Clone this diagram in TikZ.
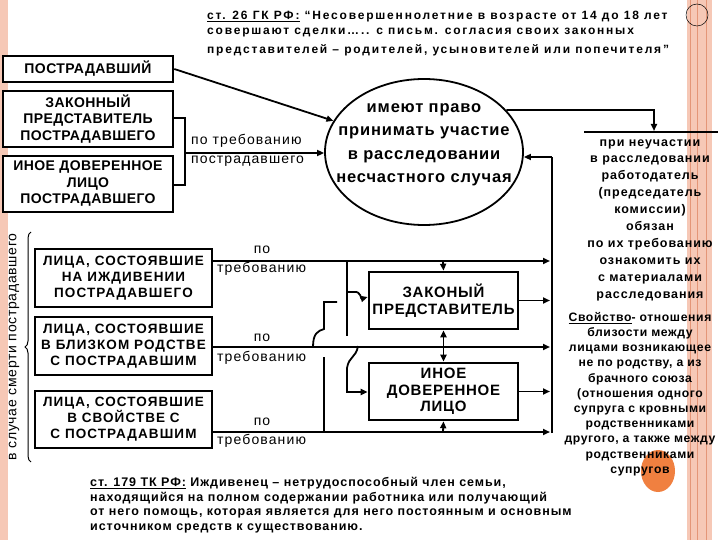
\documentclass[tikz,border=0pt]{standalone}
\usepackage{fontspec}
\setmainfont{Liberation Sans}
\usetikzlibrary{arrows.meta,decorations.pathreplacing,shapes.geometric}
\definecolor{stripe}{RGB}{246,200,182}
\definecolor{stripeline}{RGB}{228,150,120}
\definecolor{orangedot}{RGB}{240,128,64}
\newcommand{\lsp}[1]{\addfontfeatures{LetterSpace=#1}}
\begin{document}
\begin{tikzpicture}[x=1pt,y=-1pt,
  box/.style={draw, line width=2.6pt, fill=white, align=center, inner sep=0pt,
    font=\bfseries\fontsize{14}{16.5}\selectfont\lsp{3}},
  sbox/.style={box, font=\bfseries\fontsize{13.5}{16}\selectfont\lsp{8}},
  mbox/.style={box, font=\bfseries\fontsize{15}{16.5}\selectfont\lsp{5}},
  conn/.style={line width=1.8pt},
  arr/.style={conn, -{Triangle[length=7pt,width=6pt]}},
  darr/.style={conn, {Triangle[length=7pt,width=6pt]}-{Triangle[length=7pt,width=6pt]}},
  lbl/.style={inner sep=0pt, font=\fontsize{14}{16}\selectfont\lsp{8}},
  cite/.style={inner sep=0pt, anchor=west, font=\bfseries\fontsize{12}{16}\selectfont\lsp{15}},
  bcite/.style={inner sep=0pt, anchor=west, font=\bfseries\fontsize{12.5}{15}\selectfont\lsp{7.5}},
  btxt/.style={inner sep=0pt, align=center, font=\bfseries\fontsize{12.5}{16.9}\selectfont\lsp{7.5}}
]
\useasboundingbox (0,0) rectangle (720,540);
% background decorations
\fill[stripe] (0,0) rectangle (8,540);
\fill[stripe] (687,0) rectangle (712,540);
\foreach \xx in {690,697,706} \draw[stripeline, line width=0.6pt] (\xx,0) -- (\xx,540);
\draw[line width=0.5pt] (697,15) circle (11);
\fill[orangedot] (658,471) ellipse (17 and 21);

% top citation
\node[cite] (t1) at (207,17) {\underline{ст. 26 ГК РФ:} “Несовершеннолетние в возрасте от 14 до 18 лет};
\node[cite] (t2) at (207,33) {совершают сделки….. с письм. согласия своих законных};
\node[cite] (t3) at (207,50) {представителей – родителей, усыновителей или попечителя”};

% left boxes
\node[box, minimum width=170, minimum height=26] (b1) at (88,69) {ПОСТРАДАВШИЙ};
\node[box, minimum width=170, minimum height=56] (b2) at (88,119) {ЗАКОННЫЙ\\ПРЕДСТАВИТЕЛЬ\\ПОСТРАДАВШЕГО};
\node[box, minimum width=170, minimum height=56] (b3) at (88,184) {ИНОЕ ДОВЕРЕННОЕ\\ЛИЦО\\ПОСТРАДАВШЕГО};

% ellipse
\node[draw, ellipse, line width=1.8pt, minimum width=198, minimum height=146, inner sep=0pt] (e) at (424,152) {};
\node[inner sep=0pt, align=center, font=\bfseries\fontsize{16.5}{23.5}\selectfont\lsp{5}] (et) at (424,145)
  {имеют право\\принимать участие\\в расследовании\\несчастного случая};

% arrows into ellipse
\draw[arr] (b1.east) -- (e.161);
\coordinate (br) at (185,153);
\draw[conn] (b2.east |- 0,118) -- (185,118) -- (185,185) -- (b3.east |- 0,185);
\draw[arr] (br) -- (e.west |- br);
\node[lbl, anchor=west] (l0a) at (191,141) {по требованию};
\node[lbl, anchor=west] (l0b) at (191,161) {пострадавшего};

% right bar
\coordinate (bar1) at (584,132);
\coordinate (bar2) at (718,132);
\draw[line width=2.6pt] (bar1) -- (bar2);
\draw[arr] (e.27) -- (654,110) -- (654,131);

\node[btxt] (r1) at (650,220) {при неучастии\\в расследовании\\работодатель\\(председатель\\комиссии)\\обязан\\по их требованию\\ознакомить их\\с материалами\\расследования};

\node[btxt, font=\bfseries\fontsize{12.2}{15.2}\selectfont\lsp{5}] (r2) at (640,394) {\underline{Свойство}- отношения\\близости между\\лицами возникающее\\не по родству, а из\\брачного союза\\(отношения одного\\супруга с кровными\\родственниками\\другого, а также между\\родственниками\\супругов};

% lower left boxes
\node[sbox, minimum width=177, minimum height=58] (c1) at (123.5,278) {ЛИЦА, СОСТОЯВШИЕ\\НА ИЖДИВЕНИИ\\ПОСТРАДАВШЕГО};
\node[sbox, minimum width=177, minimum height=58] (c2) at (123.5,346) {ЛИЦА, СОСТОЯВШИЕ\\В БЛИЗКОМ РОДСТВЕ\\С ПОСТРАДАВШИМ};
\node[sbox, minimum width=177, minimum height=57] (c3) at (123.5,419.5) {ЛИЦА, СОСТОЯВШИЕ\\В СВОЙСТВЕ С\\С ПОСТРАДАВШИМ};

% vertical caption and brace
\node[inner sep=0pt, rotate=90, font=\fontsize{14}{16}\selectfont\lsp{5}] (vc) at (14,347) {в случае смерти пострадавшего};
\draw[line width=1pt, decorate, decoration={brace, amplitude=6pt}] (31,462) -- (31,232);

% middle boxes
\node[mbox, minimum width=149, minimum height=57] (z) at (443.5,300.5) {ЗАКОНЫЙ\\ПРЕДСТАВИТЕЛЬ};
\node[mbox, minimum width=149, minimum height=57] (i) at (443.5,391.5) {ИНОЕ\\ДОВЕРЕННОЕ\\ЛИЦО};

% right collector line
\coordinate (v1) at (552,157);
\coordinate (v2) at (552,433);
\draw[conn] (v2) -- (v1);
\draw[arr] (v1) -- (e.east |- v1);

% row lines
\coordinate (r261) at (550,261);
\coordinate (r347) at (550,347);
\coordinate (r432) at (550,432);
\draw[arr] (c1.east |- 0,261) -- (r261);
\draw[arr] (c2.east |- 0,347) -- (r347);
\draw[arr] (c3.east |- 0,432) -- (r432);
\draw[arr] (z.east) -- (z.east -| r261);
\draw[arr] (i.east) -- (i.east -| r261);

% labels
\node[lbl] (p1) at (262,250) {по};
\node[lbl, anchor=west] (q1) at (217,269) {требованию};
\node[lbl] (p2) at (262,338) {по};
\node[lbl, anchor=west] (q2) at (217,358) {требованию};
\node[lbl] (p3) at (262,422) {по};
\node[lbl, anchor=west] (q3) at (217,441) {требованию};

% verticals between middle boxes
\draw[arr] (443,261) -- (z.north);
\draw[darr] (z.south) -- (i.north);
\draw[arr] (443,432) -- (i.south);

% hand-drawn links
\draw[conn] (347,261) -- (347,336);
\draw[arr] (347,292) -- (354,292) .. controls (361,291) and (361,299) .. (z.west |- 0,297);
\draw[conn] (313,347) .. controls (313,333) and (318,331) .. (324,329) -- (324,302) -- (337,302);
\draw[conn] (324,357) -- (324,432);
\draw[arr] (358,346) .. controls (356,358) and (349,356) .. (347,368) -- (347,392) -- (i.west |- 0,392);

% bottom citation
\node[bcite] (s1) at (90,483) {\underline{ст. 179 ТК РФ:} Иждивенец – нетрудоспособный член семьи,};
\node[bcite] (s2) at (90,498) {находящийся на полном содержании работника или получающий};
\node[bcite] (s3) at (90,513) {от него помощь, которая является для него постоянным и основным};
\node[bcite] (s4) at (90,528) {источником средств к существованию.};
\end{tikzpicture}
\end{document}
